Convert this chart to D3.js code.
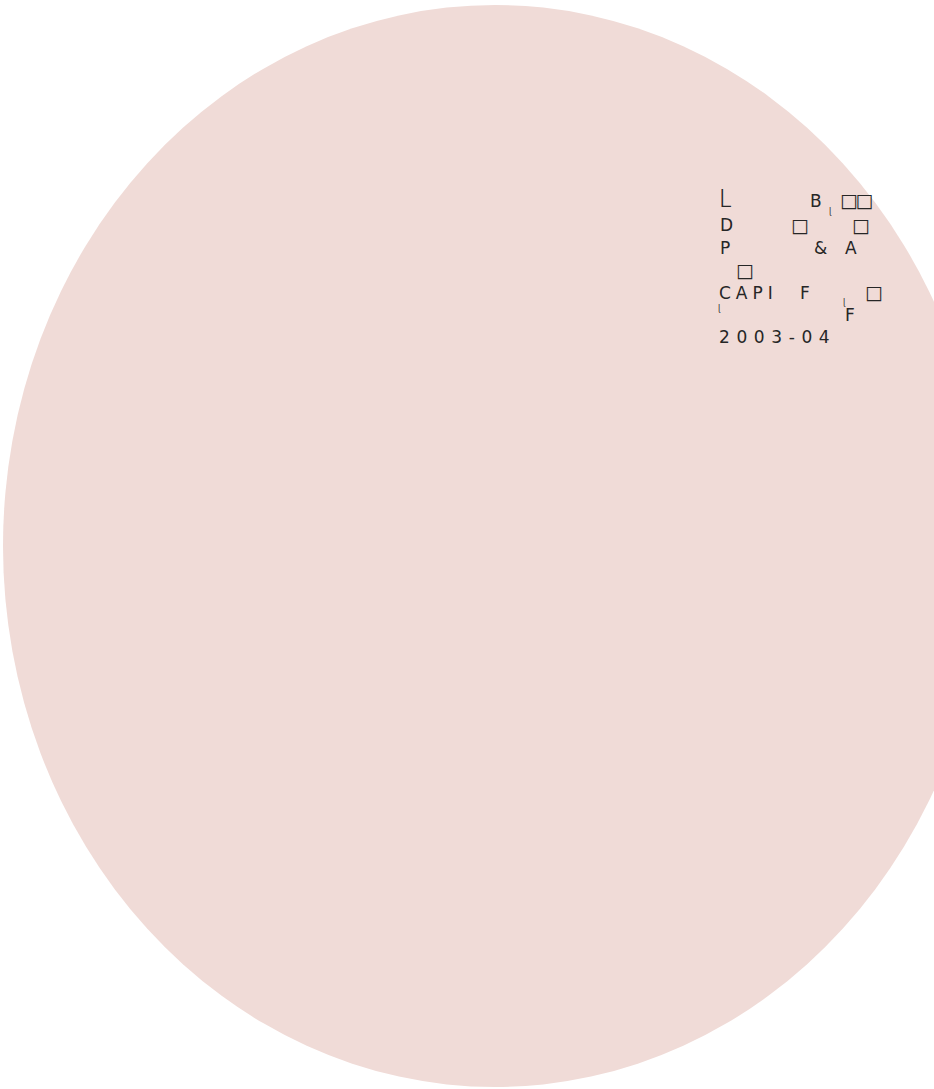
<!DOCTYPE html>
<html><head><meta charset="utf-8">
<script src="https://cdn.jsdelivr.net/npm/d3@7"></script>
<style>body{margin:0;background:#fff}svg{display:block}text{font-family:"DejaVu Sans",sans-serif;fill:#262626}</style>
</head><body>
<script>
// data
const categories = ["2003-04"];
const values = [100];
const titleParts = ["L", "B", "□□"];
const line2 = ["D", "□", "□"];
const line3 = ["P", "&", "A"];
const line4 = ["□"];
const line5 = ["CAPI", "F", "□", "F"];
const markGlyph = "ɭ";

const W = 934, H = 1089;
const svg = d3.select("body").append("svg").attr("width", W).attr("height", H);
const cx = 495, cy = 546, ry = 541, rx = 492;
const g = svg.append("g").attr("transform", `translate(${cx},${cy}) scale(${rx/ry},1)`);
const pie = d3.pie().sort(null)(values);
const arc = d3.arc().innerRadius(0).outerRadius(ry);
g.selectAll("path").data(pie).join("path").attr("d", arc).attr("fill", "rgb(240,219,215)");

const t = svg.append("g").style("font-size", "17px").style("letter-spacing", "5px");
function put(s, x, y, opts = {}) {
  const e = t.append("text").attr("x", x).attr("y", y).text(s);
  if (opts.size) e.style("font-size", opts.size + "px");
  if (opts.weight) e.style("font-weight", opts.weight);
  if (opts.ls !== undefined) e.style("letter-spacing", opts.ls + "px");
  if (opts.fill) e.style("fill", opts.fill);
  return e;
}
const box = {size: 19, ls: -2.5};
const mk = {size: 8, ls: 0};
put(titleParts[0], 719, 207, {size: 24, weight: 200}).style("font-family", "'Noto Sans CJK SC'");
put(titleParts[1], 810, 207);
put(titleParts[2], 840, 207, box);
put(markGlyph, 829, 214, mk);
put(line2[0], 720, 231);
put(line2[1], 791, 232, box);
put(line2[2], 852, 232, box);
put(line3[0], 720, 254);
put(line3[1], 814, 254);
put(line3[2], 845, 254);
put(line4[0], 736, 277, box);
put(line5[0], 719, 299);
put(line5[1], 800, 299);
put(line5[2], 865, 299, box);
put(markGlyph, 843, 305, mk);
put(markGlyph, 718, 311, mk);
put(line5[3], 845, 321);
put(categories[0], 719, 343, {ls: 6.6});
</script>
</body></html>
